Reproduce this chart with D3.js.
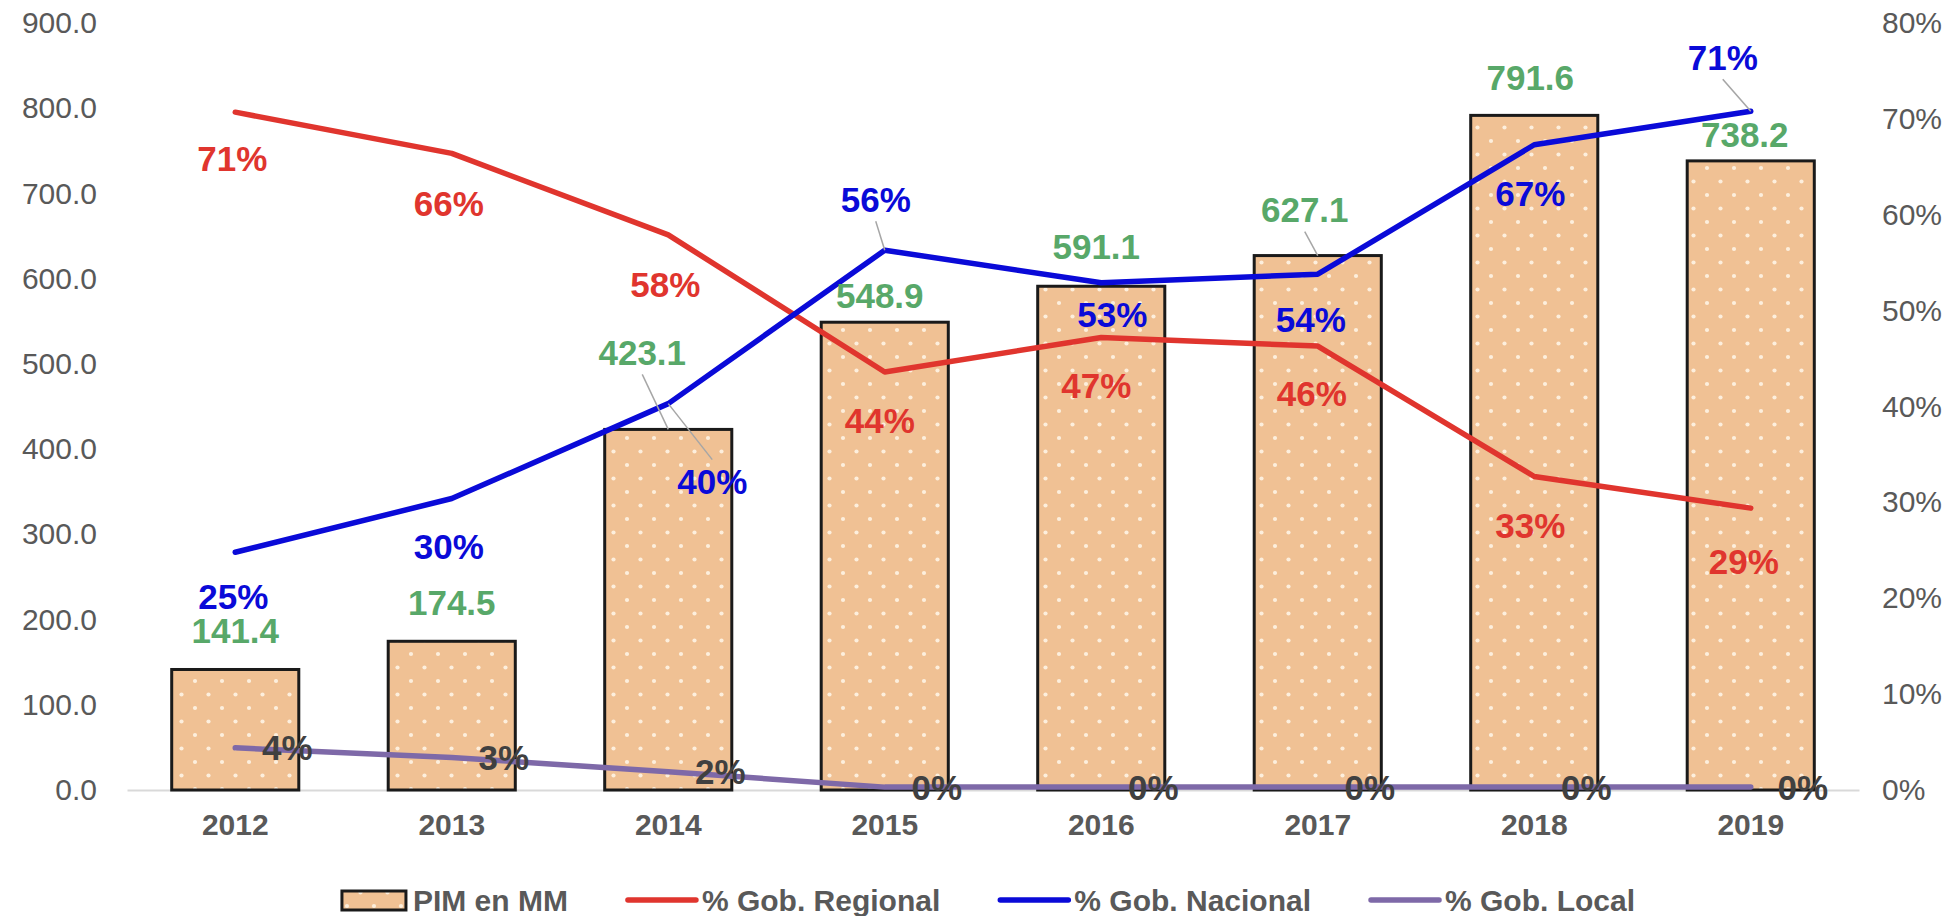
<!DOCTYPE html>
<html>
<head>
<meta charset="utf-8">
<script src="https://cdn.jsdelivr.net/npm/d3@7"></script>
<style>
  body { margin: 0; background: #fff; }
  text { font-family: "Liberation Sans", Arial, sans-serif; }
</style>
</head>
<body>
<div class="container"></div>
<script>
// data
const years = ['2012', '2013', '2014', '2015', '2016', '2017', '2018', '2019']
const pim = [141.4, 174.5, 423.1, 548.9, 591.1, 627.1, 791.6, 738.2]
const gobRegional = [0.707, 0.664, 0.579, 0.436, 0.472, 0.463, 0.327, 0.294]
const gobNacional = [0.248, 0.304, 0.403, 0.563, 0.529, 0.538, 0.673, 0.708]
const gobLocal = [0.044, 0.034, 0.019, 0.003, 0.003, 0.003, 0.003, 0.003]
const leftTicks = [0, 100, 200, 300, 400, 500, 600, 700, 800, 900]
const rightTicks = [0, 0.1, 0.2, 0.3, 0.4, 0.5, 0.6, 0.7, 0.8]
const legendNames = ['PIM en MM', '% Gob. Regional', '% Gob. Nacional', '% Gob. Local']

// label nudges (dx, dy from the point), as dragged in the original
const nudge = {
    pim: [[0, -39], [0, -39], [-26, -77], [-5, -27], [-5, -40], [-13, -46], [-4, -38], [-6, -26]],
    regional: [[-3, 46], [-3, 50], [-3, 50], [-5, 48], [-5, 48], [-6, 47], [-4, 49], [-7, 53]],
    nacional: [[-2, 44], [-3, 48], [44, 78], [-9, -51], [11, 32], [-7, 45], [-4, 49], [-28, -54]],
    local: years.map(() => [52, 0])
}
const leaders = { pim: [2, 5], nacional: [2, 3, 7], regional: [], local: [] }

const colors = {
    bar: '#F0C194', dot: '#FDEFDD', green: '#58A869',
    regional: '#E0352E', nacional: '#0A0AD8', local: '#7E69A8', axis: '#595959'
}

const W = 1954, H = 916
const plot = { left: 127, right: 1859, top: 23, bottom: 790 }

const svg = d3.select('.container').append('svg')
    .attr('width', W).attr('height', H)

const defs = svg.append('defs')
const pat = defs.append('pattern')
    .attr('id', 'dots')
    .attr('patternUnits', 'userSpaceOnUse')
    .attr('width', 27).attr('height', 27)
pat.append('rect').attr('width', 27).attr('height', 27).attr('fill', colors.bar)
pat.append('circle').attr('cx', 6).attr('cy', 6).attr('r', 2.1).attr('fill', colors.dot)
pat.append('circle').attr('cx', 19.5).attr('cy', 19.5).attr('r', 2.1).attr('fill', colors.dot)

const x = d3.scaleBand().domain(years).range([plot.left, plot.right])
    .paddingInner(0.413).paddingOuter(0.2065)
const yL = d3.scaleLinear().domain([0, 900]).range([plot.bottom, plot.top])
const yR = d3.scaleLinear().domain([0, 0.8]).range([plot.bottom, plot.top])
const cx = d => x(d) + x.bandwidth() / 2

// axes
const leftAxis = svg.append('g')
    .attr('transform', `translate(${plot.left},0)`)
    .call(d3.axisLeft(yL).tickValues(leftTicks).tickFormat(d3.format('.1f')).tickSize(0).tickPadding(30))
const rightAxis = svg.append('g')
    .attr('transform', `translate(${plot.right},0)`)
    .call(d3.axisRight(yR).tickValues(rightTicks).tickFormat(d3.format('.0%')).tickSize(0).tickPadding(23))
const bottomAxis = svg.append('g')
    .attr('transform', `translate(0,${plot.bottom})`)
    .call(d3.axisBottom(x).tickSize(0).tickSizeOuter(0).tickPadding(24))

;[leftAxis, rightAxis].forEach(g => {
    g.select('.domain').remove()
    g.selectAll('text').style('font-size', '30px').attr('fill', colors.axis)
})
bottomAxis.select('.domain').attr('stroke', '#D9D9D9').attr('stroke-width', 2)
bottomAxis.selectAll('text').style('font-size', '30px').style('font-weight', 'bold').attr('fill', colors.axis)

// bars
svg.append('g').selectAll('rect')
    .data(years)
    .enter()
    .append('rect')
    .attr('x', d => x(d))
    .attr('y', (d, i) => yL(pim[i]))
    .attr('width', x.bandwidth())
    .attr('height', (d, i) => yL(0) - yL(pim[i]))
    .attr('fill', 'url(#dots)')
    .attr('stroke', '#1a1a1a')
    .attr('stroke-width', 3)

// lines
const series = [
    { key: 'regional', values: gobRegional, color: colors.regional, labelColor: colors.regional },
    { key: 'nacional', values: gobNacional, color: colors.nacional, labelColor: colors.nacional },
    { key: 'local', values: gobLocal, color: colors.local, labelColor: '#404040' }
]
const line = d3.line().x(d => cx(d.year)).y(d => yR(d.v))

series.forEach(s => {
    svg.append('path')
        .datum(years.map((y, i) => ({ year: y, v: s.values[i] })))
        .attr('fill', 'none')
        .attr('stroke', s.color)
        .attr('stroke-width', 5.5)
        .attr('stroke-linejoin', 'round')
        .attr('stroke-linecap', 'round')
        .attr('d', line)
})

// data labels
function addLabels(key, anchors, texts, color) {
    const g = svg.append('g')
    anchors.forEach((p, i) => {
        const [dx, dy] = nudge[key][i]
        const lx = p[0] + dx, ly = p[1] + dy
        if (leaders[key].includes(i)) {
            const sy = ly + (dy < 0 ? 22 : -22)
            g.append('line')
                .attr('x1', lx).attr('y1', sy)
                .attr('x2', p[0]).attr('y2', p[1])
                .attr('stroke', '#A6A6A6').attr('stroke-width', 1.5)
        }
        g.append('text')
            .attr('x', lx).attr('y', ly)
            .attr('dy', '0.36em')
            .attr('text-anchor', 'middle')
            .style('font-size', '35px')
            .style('font-weight', 'bold')
            .attr('fill', color)
            .text(texts[i])
    })
}

addLabels('pim', years.map((y, i) => [cx(y), yL(pim[i])]), pim.map(d3.format('.1f')), colors.green)
series.forEach(s => {
    addLabels(s.key, years.map((y, i) => [cx(y), yR(s.values[i])]), s.values.map(d3.format('.0%')), s.labelColor)
})

// legend
const legend = svg.append('g').attr('class', 'legend')
let lx = 0
const legendColors = [null, colors.regional, colors.nacional, colors.local]
legendNames.forEach((name, i) => {
    const item = legend.append('g').attr('transform', `translate(${lx},0)`)
    if (i === 0) {
        item.append('rect')
            .attr('x', 1).attr('y', -9).attr('width', 64).attr('height', 19)
            .attr('fill', 'url(#dots)').attr('stroke', '#1a1a1a').attr('stroke-width', 3)
    } else {
        item.append('line')
            .attr('x1', 2).attr('x2', 70).attr('y1', 0).attr('y2', 0)
            .attr('stroke', legendColors[i]).attr('stroke-width', 5.5).attr('stroke-linecap', 'round')
    }
    const t = item.append('text')
        .attr('x', i === 0 ? 72 : 76).attr('y', 0).attr('dy', '0.36em')
        .style('font-size', '30px').style('font-weight', 'bold')
        .attr('fill', colors.axis)
        .text(name)
    lx += (i === 0 ? 72 : 76) + t.node().getComputedTextLength() + 58
})
const legendWidth = lx - 58
legend.attr('transform', `translate(${988 - legendWidth / 2},900)`)
</script>
</body>
</html>
